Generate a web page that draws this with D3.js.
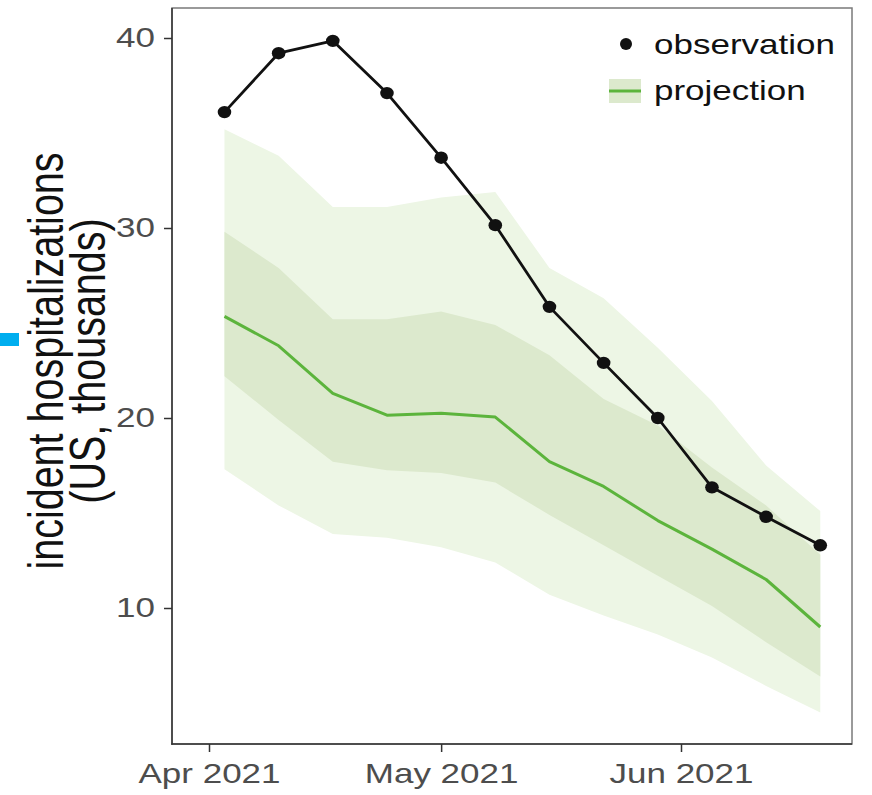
<!DOCTYPE html>
<html>
<head>
<meta charset="utf-8">
<script src="https://cdn.jsdelivr.net/npm/d3@7"></script>
<style>
  html, body { margin: 0; padding: 0; background: #fff; }
  svg { display: block; }
  text { font-family: "Liberation Sans", Arial, Helvetica, sans-serif; }
</style>
</head>
<body>
<svg id="chart" width="872" height="795"></svg>
<script>
// Weekly national hospitalizations (thousands), week ending dates
const weeks = ["2021-04-03", "2021-04-10", "2021-04-17", "2021-04-24", "2021-05-01", "2021-05-08",
               "2021-05-15", "2021-05-22", "2021-05-29", "2021-06-05", "2021-06-12", "2021-06-19"];
const observed = [36.1, 39.2, 39.85, 37.1, 33.7, 30.15, 25.85, 22.9, 20.0, 16.35, 14.8, 13.3];
const projMedian = [25.35, 23.8, 21.3, 20.15, 20.25, 20.05, 17.7, 16.4, 14.6, 13.1, 11.5, 9.0];
const proj50Low  = [22.2, 19.9, 17.7, 17.25, 17.1, 16.6, 14.9, 13.3, 11.7, 10.1, 8.2, 6.4];
const proj50High = [29.8, 27.9, 25.2, 25.2, 25.6, 24.9, 23.3, 21.0, 19.6, 17.4, 15.4, 12.8];
const proj95Low  = [17.3, 15.4, 13.9, 13.7, 13.2, 12.4, 10.7, 9.6, 8.6, 7.4, 5.9, 4.5];
const proj95High = [35.2, 33.8, 31.1, 31.1, 31.6, 31.9, 27.9, 26.3, 23.7, 20.9, 17.5, 15.1];

const xTicks = ["2021-04-01", "2021-05-01", "2021-06-01"];
const yTicks = [10, 20, 30, 40];
const legendLabels = ["observation", "projection"];
const titleLines = ["incident hospitalizations", "(US, thousands)"];

const parse = d3.utcParse("%Y-%m-%d");
const dates = weeks.map(parse);
const rows = dates.map((d, i) => ({
  date: d, obs: observed[i], med: projMedian[i],
  lo50: proj50Low[i], hi50: proj50High[i], lo95: proj95Low[i], hi95: proj95High[i]
}));

const panel = { left: 172, right: 852, top: 8, bottom: 744 };
const STRETCH = 1.25;          // glyphs are set slightly wide
const FONT = "28px";

const svg = d3.select("#chart");

const x = d3.scaleUtc()
  .domain([parse("2021-04-01"), parse("2021-06-01")])
  .range([209, 681]);
const y = d3.scaleLinear().domain([10, 40]).range([608, 38]);

// small cyan marker at the left edge
svg.append("rect").attr("x", 0).attr("y", 333).attr("width", 19).attr("height", 13).attr("fill", "#00aeef");

// panel background
svg.append("rect")
  .attr("x", panel.left).attr("y", panel.top)
  .attr("width", panel.right - panel.left).attr("height", panel.bottom - panel.top)
  .attr("fill", "#fff");

// projection intervals
const band = (lo, hi) => d3.area().x(d => x(d.date)).y0(d => y(d[lo])).y1(d => y(d[hi]));
svg.append("path").datum(rows).attr("d", band("lo95", "hi95")).attr("fill", "#edf6e5");
svg.append("path").datum(rows).attr("d", band("lo50", "hi50")).attr("fill", "#dce9cd");

// projection median
svg.append("path").datum(rows)
  .attr("d", d3.line().x(d => x(d.date)).y(d => y(d.med)))
  .attr("fill", "none").attr("stroke", "#5cb43c").attr("stroke-width", 3)
  .attr("stroke-linejoin", "round");

// observations
svg.append("path").datum(rows)
  .attr("d", d3.line().x(d => x(d.date)).y(d => y(d.obs)))
  .attr("fill", "none").attr("stroke", "#111").attr("stroke-width", 2.8)
  .attr("stroke-linejoin", "round");
svg.append("g").selectAll("ellipse").data(rows).join("ellipse")
  .attr("cx", d => x(d.date)).attr("cy", d => y(d.obs))
  .attr("rx", 6.8).attr("ry", 6.2).attr("fill", "#111");

// panel border
svg.append("rect")
  .attr("x", panel.left).attr("y", panel.top)
  .attr("width", panel.right - panel.left).attr("height", panel.bottom - panel.top)
  .attr("fill", "none").attr("stroke", "#7a7a7a").attr("stroke-width", 1.5);

// axes
const yAxis = svg.append("g").attr("transform", `translate(${panel.left},0)`)
  .call(d3.axisLeft(y).tickValues(yTicks).tickSize(8).tickPadding(0).tickFormat(d3.format("d")));
const xAxis = svg.append("g").attr("transform", `translate(0,${panel.bottom})`)
  .call(d3.axisBottom(x).tickValues(xTicks.map(parse)).tickSize(8).tickPadding(11)
    .tickFormat(d3.utcFormat("%b %Y")));

[yAxis, xAxis].forEach(g => {
  g.select(".domain").remove();
  g.selectAll(".tick line").attr("stroke", "#333").attr("stroke-width", 1.5);
  g.selectAll(".tick text").attr("fill", "#4d4d4d").style("font-size", FONT)
    .style("font-family", "'Liberation Sans', Arial, Helvetica, sans-serif");
});
yAxis.selectAll(".tick text").attr("x", -17 / STRETCH).attr("transform", `scale(${STRETCH},1)`);
xAxis.selectAll(".tick text").attr("transform", `scale(${STRETCH},1)`);

// axis lines
svg.append("line").attr("x1", panel.left).attr("x2", panel.left)
  .attr("y1", panel.top).attr("y2", panel.bottom + 0.75).attr("stroke", "#333").attr("stroke-width", 1.5);
svg.append("line").attr("x1", panel.left - 0.75).attr("x2", panel.right)
  .attr("y1", panel.bottom).attr("y2", panel.bottom).attr("stroke", "#333").attr("stroke-width", 1.5);

// y axis title (two lines)
const titleX = [63, 105];
titleLines.forEach((t, i) => {
  svg.append("text")
    .attr("transform", `translate(${titleX[i]},361) scale(1.25,1) rotate(-90)`)
    .attr("text-anchor", "middle")
    .style("font-size", "39.5px").attr("fill", "#111")
    .text(t);
});

// legend
const legend = svg.append("g");
legend.append("circle").attr("cx", 626).attr("cy", 44).attr("r", 6).attr("fill", "#111");
legend.append("rect").attr("x", 609).attr("y", 79).attr("width", 32).attr("height", 24).attr("fill", "#dce9cd");
legend.append("line").attr("x1", 609).attr("x2", 641).attr("y1", 91).attr("y2", 91)
  .attr("stroke", "#5cb43c").attr("stroke-width", 3);
legendLabels.forEach((t, i) => {
  legend.append("text")
    .attr("transform", `translate(654,${[54, 100][i]}) scale(${STRETCH},1)`)
    .style("font-size", FONT).attr("fill", "#111")
    .text(t);
});
</script>
</body>
</html>
